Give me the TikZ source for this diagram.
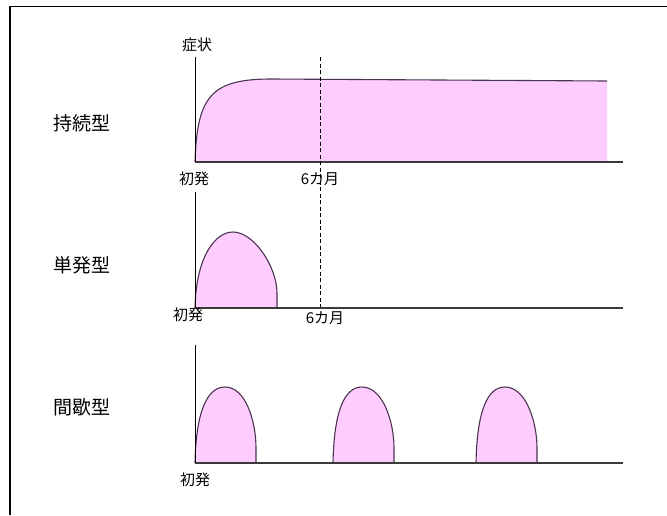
\documentclass[tikz,border=0pt]{standalone}
\usepackage{fontspec}
\newfontfamily\jp{Noto Sans CJK JP}
\definecolor{pinkfill}{HTML}{FFCCFF}
\definecolor{curveline}{HTML}{4A3450}
\definecolor{axisgray}{HTML}{3A3A3A}
\tikzset{
  rowlabel/.style={font=\jp\fontsize{19}{19}\selectfont, inner sep=0pt},
  axlabel/.style={font=\jp\fontsize{15}{15}\selectfont, inner sep=0pt},
  axisline/.style={draw=black, line width=0.9pt},
  baseline/.style={draw=axisgray, line width=1.3pt},
  curve/.style={draw=curveline, line width=1.1pt},
  sixmonth/.style={draw=black, line width=0.8pt, dash pattern=on 4pt off 2.5pt},
  frameline/.style={draw=black, line width=1.8pt}
}
\newcommand\myhump[5]{% x0 x1 px py base
  \fill[pinkfill] (#1,#5) .. controls (#1+1,#4+25) and (#3-18,#4) .. (#3,#4)
     .. controls (#3+21,#4) and (#2,#4+35) .. (#2,#5-15) -- (#2,#5) -- cycle;
  \draw[curve] (#1,#5) .. controls (#1+1,#4+25) and (#3-18,#4) .. (#3,#4)
     .. controls (#3+21,#4) and (#2,#4+35) .. (#2,#5-15) -- (#2,#5);
}
\begin{document}
\begin{tikzpicture}[x=1pt,y=-1pt]
\useasboundingbox (0,0) rectangle (667,515);
\fill[white] (0,0) rectangle (667,515);
% frame
\coordinate (ftr) at (667,6.5);
\coordinate (ftl) at (10,6.5);
\coordinate (fbl) at (10,515);
\draw[frameline] (ftr) -- (ftl) -- (fbl);

% row labels
\node[rowlabel] (l1) at (82,123) {持続型};
\node[rowlabel] (l2) at (82,265) {単発型};
\node[rowlabel] (l3) at (82,407) {間歇型};

% ---- row 1
\fill[pinkfill] (195,162) .. controls (197,95) and (212,79) .. (272,79) -- (607,81) -- (607,162) -- cycle;
\draw[curve] (195,162) .. controls (197,95) and (212,79) .. (272,79) -- (607,81);
\coordinate (a1t) at (195,57);
\coordinate (a1o) at (195,162);
\coordinate (a1e) at (623,162);
\draw[axisline] (a1t) -- (a1o);
\draw[baseline] (a1o) -- (a1e);
\node[axlabel] (sym) at (197,45) {症状};
\node[axlabel] (on1) at (194,179) {初発};
\node[axlabel] (m1) at (320,179) {6カ月};

% ---- row 2
\myhump{195}{277}{233}{232}{308}
\coordinate (a2t) at (195,192);
\coordinate (a2o) at (195,308);
\coordinate (a2e) at (623,308);
\draw[axisline] (a2t) -- (a2o);
\draw[baseline] (a2o) -- (a2e);
\node[axlabel] (on2) at (188,315) {初発};
\node[axlabel] (m2) at (325,318) {6カ月};

% dashed 6-month line
\coordinate (dt) at (320,57);
\coordinate (db) at (320,307);
\draw[sixmonth] (dt) -- (db);

% ---- row 3
\myhump{195}{256}{225}{387}{463}
\myhump{333}{394}{362}{387}{463}
\myhump{476}{537}{505}{387}{463}
\coordinate (a3t) at (195,345);
\coordinate (a3o) at (195,463);
\coordinate (a3e) at (623,463);
\draw[axisline] (a3t) -- (a3o);
\draw[baseline] (a3o) -- (a3e);
\node[axlabel] (on3) at (195,480) {初発};
\end{tikzpicture}
\end{document}
